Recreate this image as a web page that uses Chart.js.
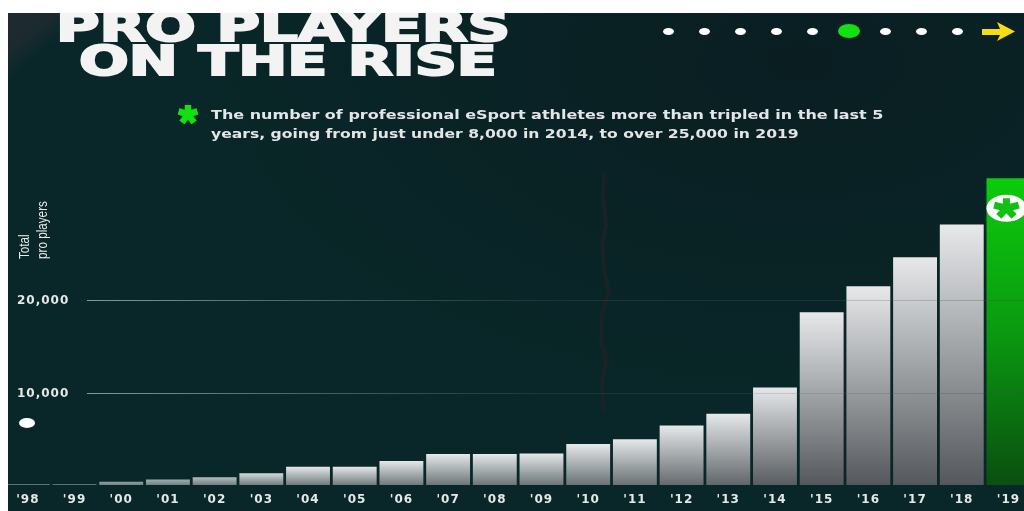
<!DOCTYPE html>
<html>
<head>
<meta charset="utf-8">
<title>Pro players on the rise</title>
<script src="https://cdn.jsdelivr.net/npm/chart.js@4/dist/chart.umd.min.js"></script>
<style>
  html, body { margin: 0; padding: 0; background: #fff; overflow: hidden; }
  /* Dark slide, starts a little in from the top left corner */
  #slide {
    position: absolute; left: 8px; top: 13px; width: 1016px; height: 498px; overflow: hidden;
    background:
      linear-gradient(140deg, #1f2a31 0, #1c2a30 30px, rgba(11,40,40,0) 52px),
      radial-gradient(ellipse at 78% 10%, #0a1e22 0, rgba(10,30,34,0) 55%),
      #092728;
  }
  #crack { position: absolute; left: 0; top: 0; }
  #chart { position: absolute; left: -8px; top: -13px; width: 1040px; height: 511px; }
  .abs { position: absolute; white-space: nowrap; transform-origin: left top; }
  .head {
    font: bold 40px/40px "DejaVu Sans", sans-serif; color: #f3f3f3;
    -webkit-text-stroke: 2px #f3f3f3;
  }
  .sub { font: bold 13px/18px "DejaVu Sans", sans-serif; color: #e4e6e6; }
  .side { font: 15px/20px "Liberation Sans", sans-serif; color: #e8eaea; transform: rotate(-90deg) scaleX(0.78); }
  .dot { position: absolute; width: 11px; height: 7px; border-radius: 50%; background: #fff; }
</style>
</head>
<body>
<div id="slide">
  <svg id="crack" width="1016" height="498">
    <polyline points="596,160 595,185 598,212 594,232 597,262 601,278 594,300 593,330 598,345 594,372 596,400"
      fill="none" stroke="#1c2226" stroke-opacity="0.85" stroke-width="4"/>
  </svg>
  <canvas id="chart" width="1040" height="511"></canvas>

  <div class="abs head" style="left:48px; top:-6px; transform:scaleX(1.485)">PRO PLAYERS</div>
  <div class="abs head" style="left:71px; top:28px; transform:scaleX(1.465)">ON THE RISE</div>

  <svg class="abs" style="left:169px; top:91px" width="22" height="20" viewBox="-11 -10 22 20">
    <g stroke="#12e012" stroke-width="6.5">
      <line x1="0" y1="0" x2="0" y2="-9"/>
      <line x1="0" y1="0" x2="9.5" y2="-2.5"/>
      <line x1="0" y1="0" x2="6" y2="8.5"/>
      <line x1="0" y1="0" x2="-6" y2="8.5"/>
      <line x1="0" y1="0" x2="-9.5" y2="-2.5"/>
    </g>
  </svg>
  <div class="abs sub" style="left:203px; top:93px; transform:scaleX(1.23)">The number of professional eSport athletes more than tripled in the last 5</div>
  <div class="abs sub" style="left:203px; top:112px; transform:scaleX(1.2)">years, going from just under 8,000 in 2014, to over 25,000 in 2019</div>

  <div class="dot" style="left:655px; top:15px"></div>
  <div class="dot" style="left:691px; top:15px"></div>
  <div class="dot" style="left:727px; top:15px"></div>
  <div class="dot" style="left:763px; top:15px"></div>
  <div class="dot" style="left:799px; top:15px"></div>
  <div class="dot" style="left:830px; top:11px; width:22px; height:14px; background:#12e012"></div>
  <div class="dot" style="left:872px; top:15px"></div>
  <div class="dot" style="left:908px; top:15px"></div>
  <div class="dot" style="left:944px; top:15px"></div>
  <svg class="abs" style="left:972px; top:9px" width="36" height="20">
    <polygon points="2,7 20,7 17,0 35,9.5 17,19 20,13 2,13" fill="#f7dc12"/>
  </svg>

  <div class="abs" style="left:11px; top:405px; width:16px; height:10px; border-radius:50%; background:#fff"></div>

  <div class="abs side" style="left:6px; top:246px">Total</div>
  <div class="abs side" style="left:24px; top:246px">pro players</div>
</div>

<script>
const years = ["'98", "'99", "'00", "'01", "'02", "'03", "'04", "'05", "'06", "'07", "'08",
               "'09", "'10", "'11", "'12", "'13", "'14", "'15", "'16", "'17", "'18", "'19"];
const proPlayers = [80, 80, 350, 600, 830, 1260, 1980, 1980, 2600, 3350, 3350,
                    3420, 4430, 4940, 6450, 7700, 10560, 18700, 21500, 24650, 28200, 33200];
const gridValues = [10000, 20000];
const highlightYear = "'19";

function mix(a, b, t) {
  return 'rgb(' + a.map((c, i) => Math.round(c + (b[i] - c) * t)).join(',') + ')';
}

// Each bar gets its own top-to-bottom fade, short bars stay paler at the base
function barFill(ctx) {
  const y = ctx.chart.scales.y;
  if (!y || ctx.type !== 'data') return '#ccc';
  const top = y.getPixelForValue(proPlayers[ctx.dataIndex]);
  const base = y.getPixelForValue(0);
  // scales are not laid out yet on the first resolve
  if (!Number.isFinite(top) || !Number.isFinite(base)) return '#ccc';
  const g = ctx.chart.ctx.createLinearGradient(0, top, 0, base);
  if (years[ctx.dataIndex] === highlightYear) {
    g.addColorStop(0, '#0ccb0c');
    g.addColorStop(0.5, '#0a9a10');
    g.addColorStop(1, '#0a4f10');
    return g;
  }
  const h = base - top;
  g.addColorStop(0, mix([110, 140, 140], [230, 232, 234], Math.min(1, h / 14)));
  g.addColorStop(1, mix([118, 130, 132], [84, 88, 92], Math.min(1, h / 110)));
  return g;
}

// Gridlines start right of their labels and fade out towards the right
const fadingGrid = {
  id: 'fadingGrid',
  beforeDraw(chart) {
    chart.ctx.letterSpacing = '1px';
  },
  afterDatasetsDraw(chart) {
    const { ctx, scales: { y } } = chart;
    const g = ctx.createLinearGradient(87, 0, 1024, 0);
    g.addColorStop(0, 'rgba(170,195,190,0.75)');
    g.addColorStop(0.5, 'rgba(120,150,145,0.14)');
    g.addColorStop(1, 'rgba(60,70,70,0.3)');
    ctx.save();
    ctx.strokeStyle = g;
    ctx.lineWidth = 1;
    ctx.fillStyle = '#e6e8e8';
    ctx.font = 'bold 12px "DejaVu Sans"';
    ctx.textBaseline = 'middle';
    gridValues.forEach(v => {
      const py = Math.round(y.getPixelForValue(v)) + 0.5;
      ctx.beginPath();
      ctx.moveTo(87, py);
      ctx.lineTo(1040, py);
      ctx.stroke();
      ctx.fillText(v.toLocaleString('en-US'), 17, py);
    });
    ctx.restore();
  }
};

// White badge with a green asterisk near the top of the last bar
const badge = {
  id: 'badge',
  afterDatasetsDraw(chart) {
    const { ctx } = chart;
    const bar = chart.getDatasetMeta(0).data[years.indexOf(highlightYear)];
    const cx = bar.x - 2, cy = bar.y + 30;
    ctx.save();
    ctx.fillStyle = '#fff';
    ctx.beginPath();
    ctx.ellipse(cx, cy, 20, 13.5, 0, 0, Math.PI * 2);
    ctx.fill();
    ctx.strokeStyle = '#12c012';
    ctx.lineWidth = 7;
    for (let i = 0; i < 5; i++) {
      const a = -Math.PI / 2 + i * 2 * Math.PI / 5;
      ctx.beginPath();
      ctx.moveTo(cx, cy);
      ctx.lineTo(cx + Math.cos(a) * 13, cy + Math.sin(a) * 10);
      ctx.stroke();
    }
    ctx.restore();
  }
};

new Chart(document.getElementById('chart'), {
  type: 'bar',
  data: {
    labels: years,
    datasets: [{
      data: proPlayers,
      backgroundColor: barFill,
      barPercentage: 0.94,
      categoryPercentage: 1
    }]
  },
  options: {
    responsive: false,
    animation: false,
    layout: { padding: { left: 4.5, right: 8.2, top: 161.6, bottom: 0 } },
    plugins: { legend: { display: false }, tooltip: { enabled: false } },
    scales: {
      x: {
        grid: { display: false },
        border: { display: false },
        afterFit(scale) { scale.height = 26; },
        ticks: {
          color: '#e6e8e8',
          padding: 0,
          autoSkip: false,
          maxRotation: 0,
          font: { family: '"DejaVu Sans"', weight: 'bold', size: 12 }
        }
      },
      y: {
        min: 0,
        max: 35000,
        grid: { display: false },
        border: { display: false },
        afterFit(scale) { scale.width = 0; },
        ticks: { display: false, stepSize: 10000 }
      }
    }
  },
  plugins: [fadingGrid, badge]
});
</script>
</body>
</html>
